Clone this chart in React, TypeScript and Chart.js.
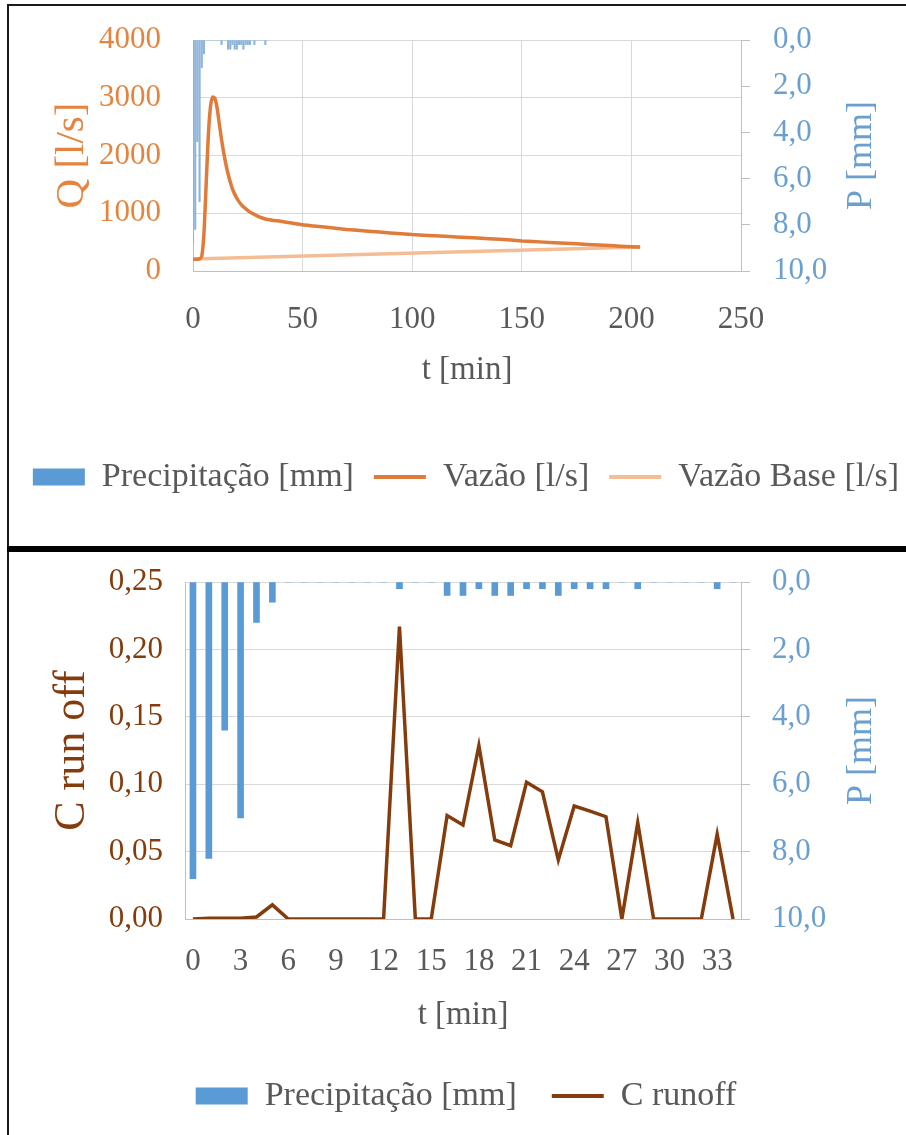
import React, { useEffect, useRef } from 'react';
import { Chart, registerables } from 'chart.js';

Chart.register(...registerables);

const FONT = "'Liberation Serif', 'Times New Roman', serif";

// ---------- Top chart data ----------
const flowTimes = [0, 2, 3, 4, 5, 6, 7, 8, 9, 10, 11, 12, 13, 14, 15, 16, 17, 18, 20, 22, 24, 26, 28, 30, 33, 36, 40, 45, 50, 55, 60, 70, 80, 90, 100, 110, 120, 130, 140, 150, 160, 170, 180, 190, 200, 204];
const flowValues = [205, 205, 210, 250, 650, 1500, 2350, 2850, 3010, 2990, 2820, 2550, 2280, 2050, 1850, 1680, 1540, 1420, 1260, 1150, 1080, 1020, 980, 940, 900, 880, 860, 830, 800, 780, 760, 720, 690, 660, 630, 610, 590, 570, 550, 520, 500, 480, 460, 440, 420, 415];
const baseTimes = [0, 204];
const baseValues = [208, 415];

// ---------- Shared precipitation (per minute) ----------
const minuteLabels = ['0', '1', '2', '3', '4', '5', '6', '7', '8', '9', '10', '11', '12', '13', '14', '15', '16', '17', '18', '19', '20', '21', '22', '23', '24', '25', '26', '27', '28', '29', '30', '31', '32', '33', '34'];
const rainMinutes = [0, 1, 2, 3, 4, 5, 6, 7, 8, 9, 10, 11, 12, 13, 14, 15, 16, 17, 18, 19, 20, 21, 22, 23, 24, 25, 26, 27, 28, 29, 30, 31, 32, 33, 34];
const rainValues = [8.8, 8.2, 4.4, 7.0, 1.2, 0.6, 0, 0, 0, 0, 0, 0, 0, 0.2, 0, 0, 0.4, 0.4, 0.2, 0.4, 0.4, 0.2, 0.2, 0.4, 0.2, 0.2, 0.2, 0, 0.2, 0, 0, 0, 0, 0.2, 0];

// ---------- Bottom chart data ----------
const runoffValues = [0, 0.0005, 0.0005, 0.0005, 0.0015, 0.0105, 0, 0, 0, 0, 0, 0, 0, 0.217, 0, 0, 0.0767, 0.0697, 0.1286, 0.0586, 0.0544, 0.1014, 0.0944, 0.0438, 0.0838, 0.080, 0.0759, 0, 0.0714, 0, 0, 0, 0, 0.0628, 0];

const ORANGE_TXT = '#E5843F';
const ORANGE_LINE = '#E07B39';
const PEACH_LINE = '#F5BD94';
const BLUE_TXT = '#6A9FCF';
const BLUE_BAR = '#5B9BD5';
const BROWN = '#843C0C';
const GRAY_TXT = '#595959';
const GRID = '#D9D9D9';
const AXIS = '#BFBFBF';

const rightTitlePlugin = {
  id: 'rightTitle',
  afterDraw(chart: any, _args: any, opts: any) {
    if (!opts || !opts.text) return;
    const { ctx, chartArea } = chart;
    ctx.save();
    ctx.translate(opts.x, (chartArea.top + chartArea.bottom) / 2);
    ctx.rotate(-Math.PI / 2);
    ctx.font = `${opts.size}px ${FONT}`;
    ctx.fillStyle = opts.color;
    ctx.textAlign = 'center';
    ctx.textBaseline = 'middle';
    ctx.fillText(opts.text, 0, 0);
    ctx.restore();
  },
};

const fixWidth = (w: number) => (s: any) => {
  s.width = w;
  s.paddingTop = 0;
  s.paddingBottom = 0;
};

export default function App() {
  const topRef = useRef<HTMLCanvasElement>(null);
  const botRef = useRef<HTMLCanvasElement>(null);

  useEffect(() => {
    const tickFont = { family: FONT, size: 31 };

    const top = new Chart(topRef.current as HTMLCanvasElement, {
      type: 'bar',
      data: {
        datasets: [
          {
            type: 'bar',
            label: 'Precipitação [mm]',
            data: rainMinutes.map((t, i) => ({ x: t, y: rainValues[i] })),
            backgroundColor: '#8DB5DC',
            barThickness: 1.5,
            yAxisID: 'yP',
            order: 2,
          } as any,
          {
            type: 'line',
            label: 'Vazão [l/s]',
            data: flowTimes.map((t, i) => ({ x: t, y: flowValues[i] })),
            borderColor: ORANGE_LINE,
            backgroundColor: ORANGE_LINE,
            borderWidth: 3.5,
            pointRadius: 0,
            tension: 0.2,
            yAxisID: 'yQ',
            order: 0,
          } as any,
          {
            type: 'line',
            label: 'Vazão Base [l/s]',
            data: baseTimes.map((t, i) => ({ x: t, y: baseValues[i] })),
            borderColor: PEACH_LINE,
            backgroundColor: PEACH_LINE,
            borderWidth: 3.5,
            pointRadius: 0,
            yAxisID: 'yQ',
            order: 1,
          } as any,
        ],
      },
      options: {
        animation: false,
        responsive: false,
        layout: { padding: { top: 40, left: 0, right: 0, bottom: 41 } },
        scales: {
          x: {
            type: 'linear',
            position: 'bottom',
            min: 0,
            max: 250,
            offset: false,
            ticks: { stepSize: 50, padding: 30, color: GRAY_TXT, font: tickFont, maxRotation: 0 },
            grid: { color: GRID, drawTicks: false, offset: false },
            border: { color: AXIS, width: 1 },
            title: { display: true, text: 't [min]', color: GRAY_TXT, font: { family: FONT, size: 33 }, padding: { top: 0, bottom: 50 } },
            afterFit: (s: any) => { s.height = 169; },
          } as any,
          yQ: {
            type: 'linear',
            position: 'left',
            min: 0,
            max: 4000,
            ticks: { stepSize: 1000, padding: 32, color: ORANGE_TXT, font: tickFont, callback: (v: any) => String(v) },
            grid: { color: GRID, drawTicks: false },
            border: { color: AXIS, width: 1 },
            title: { display: true, text: 'Q [l/s]', color: ORANGE_TXT, font: { family: FONT, size: 41 }, padding: { top: 48, bottom: 0 } },
            afterFit: fixWidth(193),
          } as any,
          yP: {
            type: 'linear',
            position: 'right',
            min: 0,
            max: 10,
            reverse: true,
            ticks: { stepSize: 2, padding: 23, color: BLUE_TXT, font: tickFont, callback: (v: any) => Number(v).toFixed(1).replace('.', ',') },
            grid: { drawOnChartArea: false, drawTicks: true, tickLength: 9, color: AXIS },
            border: { color: AXIS, width: 1 },
            afterFit: fixWidth(191),
          } as any,
        },
        plugins: {
          tooltip: { enabled: false },
          legend: {
            position: 'bottom',
            labels: {
              color: GRAY_TXT,
              font: { family: FONT, size: 34 },
              padding: 20,
              usePointStyle: true,
              pointStyleWidth: 52,
              boxHeight: 17,
              generateLabels: () => [
                { text: 'Precipitação [mm]', fillStyle: BLUE_BAR, strokeStyle: BLUE_BAR, lineWidth: 0, pointStyle: 'rect', datasetIndex: 0, hidden: false, fontColor: GRAY_TXT },
                { text: 'Vazão [l/s]', fillStyle: ORANGE_LINE, strokeStyle: ORANGE_LINE, lineWidth: 4, pointStyle: 'line', datasetIndex: 1, hidden: false, fontColor: GRAY_TXT },
                { text: 'Vazão Base [l/s]', fillStyle: PEACH_LINE, strokeStyle: PEACH_LINE, lineWidth: 4, pointStyle: 'line', datasetIndex: 2, hidden: false, fontColor: GRAY_TXT },
              ] as any,
            },
          },
          rightTitle: { text: 'P [mm]', x: 862, size: 36, color: BLUE_TXT },
        } as any,
      },
      plugins: [rightTitlePlugin],
    } as any);

    const bot = new Chart(botRef.current as HTMLCanvasElement, {
      type: 'bar',
      data: {
        labels: minuteLabels,
        datasets: [
          {
            type: 'bar',
            label: 'Precipitação [mm]',
            data: rainValues,
            backgroundColor: BLUE_BAR,
            barThickness: 6,
            yAxisID: 'yP',
            order: 1,
          } as any,
          {
            type: 'line',
            label: 'C runoff',
            data: runoffValues,
            borderColor: BROWN,
            backgroundColor: BROWN,
            borderWidth: 3.5,
            pointRadius: 0,
            tension: 0,
            yAxisID: 'yC',
            order: 0,
          } as any,
        ],
      },
      options: {
        animation: false,
        responsive: false,
        layout: { padding: { top: 30, left: 0, right: 0, bottom: 12 } },
        scales: {
          x: {
            type: 'category',
            offset: true,
            grid: { display: false, drawTicks: false, offset: true },
            border: { color: AXIS, width: 1 },
            ticks: {
              autoSkip: false,
              maxRotation: 0,
              padding: 24,
              color: GRAY_TXT,
              font: tickFont,
              callback: (_v: any, i: number) => (i % 3 === 0 ? minuteLabels[i] : null),
            },
            title: { display: true, text: 't [min]', color: GRAY_TXT, font: { family: FONT, size: 33 }, padding: { top: 0, bottom: 9 } },
            afterFit: (s: any) => { s.height = 125; },
          } as any,
          yC: {
            type: 'linear',
            position: 'left',
            min: 0,
            max: 0.25,
            ticks: { stepSize: 0.05, padding: 22, color: BROWN, font: tickFont, callback: (v: any) => Number(v).toFixed(2).replace('.', ',') },
            grid: { color: GRID, drawTicks: false },
            border: { color: AXIS, width: 1 },
            title: { display: true, text: 'C run off', color: BROWN, font: { family: FONT, size: 44 }, padding: { top: 46, bottom: 0 } },
            afterFit: fixWidth(185),
          } as any,
          yP: {
            type: 'linear',
            position: 'right',
            min: 0,
            max: 10,
            reverse: true,
            ticks: { stepSize: 2, padding: 22, color: BLUE_TXT, font: tickFont, callback: (v: any) => Number(v).toFixed(1).replace('.', ',') },
            grid: { drawOnChartArea: false, drawTicks: true, tickLength: 9, color: AXIS },
            border: { color: AXIS, width: 1 },
            afterFit: fixWidth(191),
          } as any,
        },
        plugins: {
          tooltip: { enabled: false },
          legend: {
            position: 'bottom',
            labels: {
              color: GRAY_TXT,
              font: { family: FONT, size: 34 },
              padding: 35,
              usePointStyle: true,
              pointStyleWidth: 52,
              boxHeight: 17,
              generateLabels: () => [
                { text: 'Precipitação [mm]', fillStyle: BLUE_BAR, strokeStyle: BLUE_BAR, lineWidth: 0, pointStyle: 'rect', datasetIndex: 0, hidden: false, fontColor: GRAY_TXT },
                { text: 'C runoff', fillStyle: BROWN, strokeStyle: BROWN, lineWidth: 4, pointStyle: 'line', datasetIndex: 1, hidden: false, fontColor: GRAY_TXT },
              ] as any,
            },
          },
          rightTitle: { text: 'P [mm]', x: 862, size: 36, color: BLUE_TXT },
        } as any,
      },
      plugins: [rightTitlePlugin],
    } as any);

    return () => {
      top.destroy();
      bot.destroy();
    };
  }, []);

  return (
    <div style={{ position: 'absolute', left: 0, top: 0, width: 906, height: 1135, overflow: 'hidden', background: '#fff' }}>
      <canvas ref={topRef} width={932} height={545} style={{ position: 'absolute', left: 0, top: 0 }} />
      <canvas ref={botRef} width={932} height={583} style={{ position: 'absolute', left: 0, top: 552 }} />
      <div style={{ position: 'absolute', left: 7, top: 4, width: 899, height: 2, background: '#1a1a1a' }} />
      <div style={{ position: 'absolute', left: 7, top: 4, width: 2, height: 1131, background: '#1a1a1a' }} />
      <div style={{ position: 'absolute', left: 7, top: 546, width: 899, height: 6, background: '#000' }} />
    </div>
  );
}
